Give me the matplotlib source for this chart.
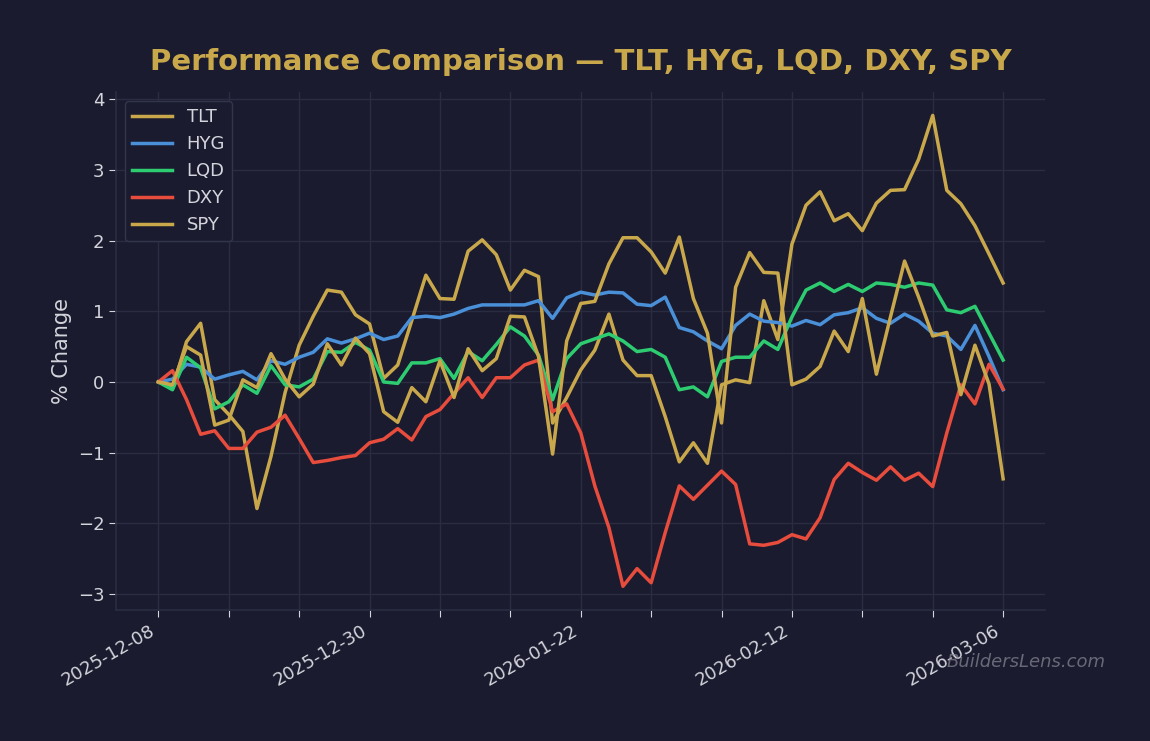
import numpy as np
import matplotlib
matplotlib.use("Agg")
import matplotlib.pyplot as plt

# Trading-day labels (61 sessions), only every 15th is labelled
date_labels = ["2025-12-08", "2025-12-30", "2026-01-22", "2026-02-12", "2026-03-06"]
n_days = 61

# % change since first session
tlt = [0.00, -0.09, 0.57, 0.83, -0.25, -0.46, -0.70, -1.79, -1.05, -0.15,
       0.52, 0.93, 1.30, 1.27, 0.95, 0.82, 0.05, 0.24, 0.87, 1.51,
       1.18, 1.17, 1.85, 2.01, 1.80, 1.30, 1.58, 1.49, -0.58, -0.22,
       0.17, 0.45, 0.96, 0.31, 0.09, 0.09, -0.49, -1.13, -0.86, -1.15,
       -0.04, 0.03, -0.01, 1.15, 0.60, 1.95, 2.50, 2.69, 2.28, 2.38,
       2.14, 2.53, 2.71, 2.72, 3.15, 3.77, 2.71, 2.52, 2.21, 1.81,
       1.40]
hyg = [0.00, 0.04, 0.25, 0.21, 0.04, 0.10, 0.15, 0.03, 0.30, 0.25,
       0.35, 0.42, 0.61, 0.55, 0.61, 0.69, 0.60, 0.65, 0.91, 0.93,
       0.91, 0.96, 1.04, 1.09, 1.09, 1.09, 1.09, 1.15, 0.90, 1.19,
       1.27, 1.23, 1.27, 1.26, 1.10, 1.08, 1.20, 0.77, 0.71, 0.58,
       0.47, 0.80, 0.96, 0.86, 0.84, 0.79, 0.87, 0.81, 0.95, 0.98,
       1.05, 0.90, 0.83, 0.96, 0.86, 0.69, 0.65, 0.46, 0.80, 0.36,
       -0.11]
lqd = [0.00, -0.11, 0.35, 0.20, -0.38, -0.28, -0.04, -0.16, 0.23, -0.04,
       -0.07, 0.04, 0.43, 0.42, 0.56, 0.45, 0.00, -0.02, 0.27, 0.27,
       0.33, 0.05, 0.43, 0.30, 0.53, 0.78, 0.65, 0.38, -0.25, 0.33,
       0.54, 0.61, 0.68, 0.58, 0.43, 0.46, 0.35, -0.11, -0.07, -0.21,
       0.29, 0.35, 0.35, 0.58, 0.46, 0.92, 1.30, 1.40, 1.28, 1.38,
       1.28, 1.40, 1.38, 1.34, 1.40, 1.37, 1.02, 0.98, 1.07, 0.69,
       0.31]
dxy = [0.00, 0.16, -0.25, -0.74, -0.69, -0.94, -0.94, -0.71, -0.64, -0.47,
       -0.80, -1.14, -1.11, -1.07, -1.04, -0.86, -0.81, -0.66, -0.82, -0.49,
       -0.39, -0.16, 0.06, -0.22, 0.06, 0.06, 0.24, 0.31, -0.42, -0.31,
       -0.72, -1.47, -2.06, -2.89, -2.64, -2.84, -2.13, -1.47, -1.66, -1.46,
       -1.26, -1.45, -2.29, -2.31, -2.27, -2.16, -2.22, -1.92, -1.38, -1.15,
       -1.28, -1.39, -1.20, -1.39, -1.29, -1.48, -0.72, -0.04, -0.31, 0.25,
       -0.10]
spy = [0.00, -0.04, 0.50, 0.38, -0.61, -0.54, 0.03, -0.08, 0.40, 0.04,
       -0.21, -0.03, 0.54, 0.24, 0.62, 0.40, -0.42, -0.57, -0.08, -0.28,
       0.30, -0.22, 0.47, 0.16, 0.33, 0.93, 0.92, 0.36, -1.02, 0.58,
       1.11, 1.14, 1.67, 2.04, 2.04, 1.84, 1.54, 2.05, 1.18, 0.69,
       -0.58, 1.34, 1.83, 1.55, 1.54, -0.04, 0.04, 0.22, 0.72, 0.43,
       1.18, 0.11, 0.92, 1.71, 1.20, 0.65, 0.70, -0.18, 0.52, -0.03,
       -1.37]

series_names = ["TLT", "HYG", "LQD", "DXY", "SPY"]
series_values = [tlt, hyg, lqd, dxy, spy]
series_colors = ["#c9a84c", "#4a90d9", "#2ecc71", "#e74c3c", "#c9a84c"]

bg = "#1a1b2e"
text_col = "#d4d4dc"
grid_col = "#2a2c42"

fig = plt.figure(figsize=(11.5, 7.41), dpi=100, facecolor=bg)
ax = fig.add_axes([0.101, 0.177, 0.808, 0.699])
ax.set_facecolor(bg)

x = np.arange(n_days)
for name, vals, col in zip(series_names, series_values, series_colors):
    ax.plot(x, vals, color=col, linewidth=2.5, label=name)

# ticks every 5 sessions, label every 15th
tick_pos = np.arange(0, n_days, 5)
tick_lbl = []
for p in tick_pos:
    if p % 15 == 0:
        tick_lbl.append(date_labels[p // 15])
    else:
        tick_lbl.append("")
ax.set_xticks(tick_pos)
ax.set_xticklabels(tick_lbl, rotation=30, ha="right")
ax.set_yticks(np.arange(-3, 5, 1))

ax.tick_params(colors=text_col, labelsize=13, length=5)
ax.grid(True, color=grid_col, linewidth=1)
ax.set_axisbelow(True)
for side in ["top", "right"]:
    ax.spines[side].set_visible(False)
for side in ["left", "bottom"]:
    ax.spines[side].set_color(grid_col)
    ax.spines[side].set_linewidth(1.2)

ax.set_ylabel("% Change", color=text_col, fontsize=15)
ax.set_title("Performance Comparison — TLT, HYG, LQD, DXY, SPY",
             color="#c9a84c", fontsize=21, fontweight="bold", pad=16)

leg = ax.legend(loc="upper left", fontsize=13, facecolor=bg,
                edgecolor="#33354d", framealpha=1, handlelength=2.2)
for t in leg.get_texts():
    t.set_color(text_col)

fig.text(0.961, 0.107, "BuildersLens.com", color="#8a8a96", alpha=0.7,
         fontsize=13, style="italic", ha="right", va="center")

fig.savefig("out.png", dpi=100, facecolor=bg)
